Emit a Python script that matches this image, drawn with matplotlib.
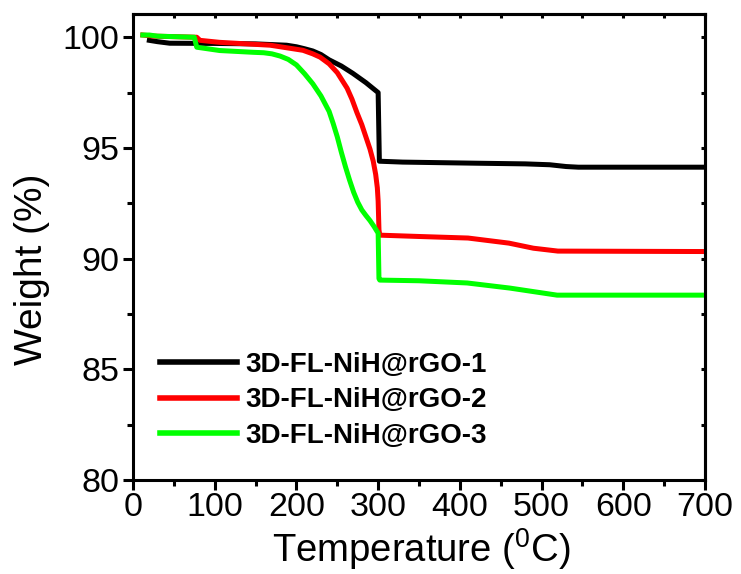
import numpy as np
import matplotlib
matplotlib.use("Agg")
import matplotlib.pyplot as plt
from matplotlib.ticker import MultipleLocator

plt.rcParams['font.family'] = ['Liberation Sans', 'DejaVu Sans']
plt.rcParams['mathtext.fontset'] = 'custom'
plt.rcParams['mathtext.rm'] = 'Liberation Sans'

# TGA curves
t1 = [20, 30, 45, 100, 150, 188, 200, 210, 220, 230, 240, 255, 269, 285, 300, 301.5,
      330, 420, 480, 510, 530, 545, 700]
w1 = [99.86, 99.8, 99.73, 99.72, 99.7, 99.64, 99.57, 99.48, 99.38, 99.22, 98.98, 98.7, 98.37, 97.95, 97.5, 94.4,
      94.36, 94.31, 94.28, 94.24, 94.16, 94.13, 94.13]

t2 = [12, 25, 78, 82, 106, 168, 208, 220, 229, 240, 250, 256, 262, 268, 274, 280, 285, 290, 294, 297, 299, 300,
      301, 302, 350, 410, 460, 490, 520, 700]
w2 = [100.1, 100.05, 100.0, 99.86, 99.77, 99.64, 99.41, 99.25, 99.1, 98.8, 98.4, 98.05, 97.7, 97.2, 96.6, 96.05,
      95.5, 94.95, 94.4, 93.8, 93.2, 92.6, 91.3, 91.06, 91.0, 90.93, 90.7, 90.47, 90.34, 90.32]

t3 = [12, 20, 30, 75, 78, 106, 147, 160, 170, 180, 190, 200, 210, 220, 230, 240, 245, 250, 255, 260, 265, 270,
      275, 280, 285, 290, 295, 300, 301, 302, 350, 409, 461, 519, 700]
w3 = [100.1, 100.1, 100.05, 100.0, 99.55, 99.4, 99.32, 99.3, 99.25, 99.15, 99.0, 98.75, 98.35, 97.9, 97.35, 96.65,
      96.1, 95.5, 94.8, 94.15, 93.55, 93.0, 92.55, 92.2, 91.95, 91.72, 91.45, 91.15, 89.1, 89.03,
      89.0, 88.9, 88.67, 88.35, 88.35]

labels = ['3D-FL-NiH@rGO-1', '3D-FL-NiH@rGO-2', '3D-FL-NiH@rGO-3']
colors = ['#000000', '#ff0000', '#00ff00']

fig = plt.figure(figsize=(7.41, 5.74), dpi=100)
ax = fig.add_axes([133 / 741, 94 / 574, 572 / 741, 466 / 574])

for t, w, lab, c in zip([t1, t2, t3], [w1, w2, w3], labels, colors):
    ax.plot(t, w, color=c, lw=3.6, label=lab)

ax.set_xlim(0, 700)
ax.set_ylim(80, 101.05)
ax.xaxis.set_major_locator(MultipleLocator(100))
ax.xaxis.set_minor_locator(MultipleLocator(50))
ax.yaxis.set_major_locator(MultipleLocator(5))
ax.yaxis.set_minor_locator(MultipleLocator(2.5))

for s in ax.spines.values():
    s.set_linewidth(2.2)

ax.tick_params(which='major', direction='out', length=7, width=2.2, labelsize=24.5,
               top=False, right=False)
ax.tick_params(which='minor', direction='out', length=4, width=2.2, top=False, right=False)
ax.tick_params(axis='x', pad=2)
ax.tick_params(axis='y', pad=3)

# inward ticks on the mirrored top / right sides
sec_x = ax.secondary_xaxis('top')
sec_x.xaxis.set_major_locator(MultipleLocator(50))
sec_x.tick_params(direction='in', length=3, width=2.2, labeltop=False)
sec_y = ax.secondary_yaxis('right')
sec_y.yaxis.set_major_locator(MultipleLocator(2.5))
sec_y.tick_params(direction='in', length=3, width=2.2, labelright=False)
sec_x.spines['top'].set_linewidth(2.2)
sec_y.spines['right'].set_linewidth(2.2)

ax.set_xlabel(r'Temperature ($\mathregular{^0}$C)', fontsize=27.5)
ax.xaxis.set_label_coords(0.504, -0.1)
ax.set_ylabel('Weight (%)', fontsize=28)
ax.yaxis.set_label_coords(-0.145, 0.453)

leg = ax.legend(loc='upper left', bbox_to_anchor=(0.047, 0.275), frameon=False,
                prop={'weight': 'bold', 'size': 20},
                handlelength=2.77, handletextpad=0.29, labelspacing=0.34,
                borderaxespad=0, borderpad=0)
for h in leg.get_lines():
    h.set_linewidth(4)

fig.savefig('out.png', dpi=100)
